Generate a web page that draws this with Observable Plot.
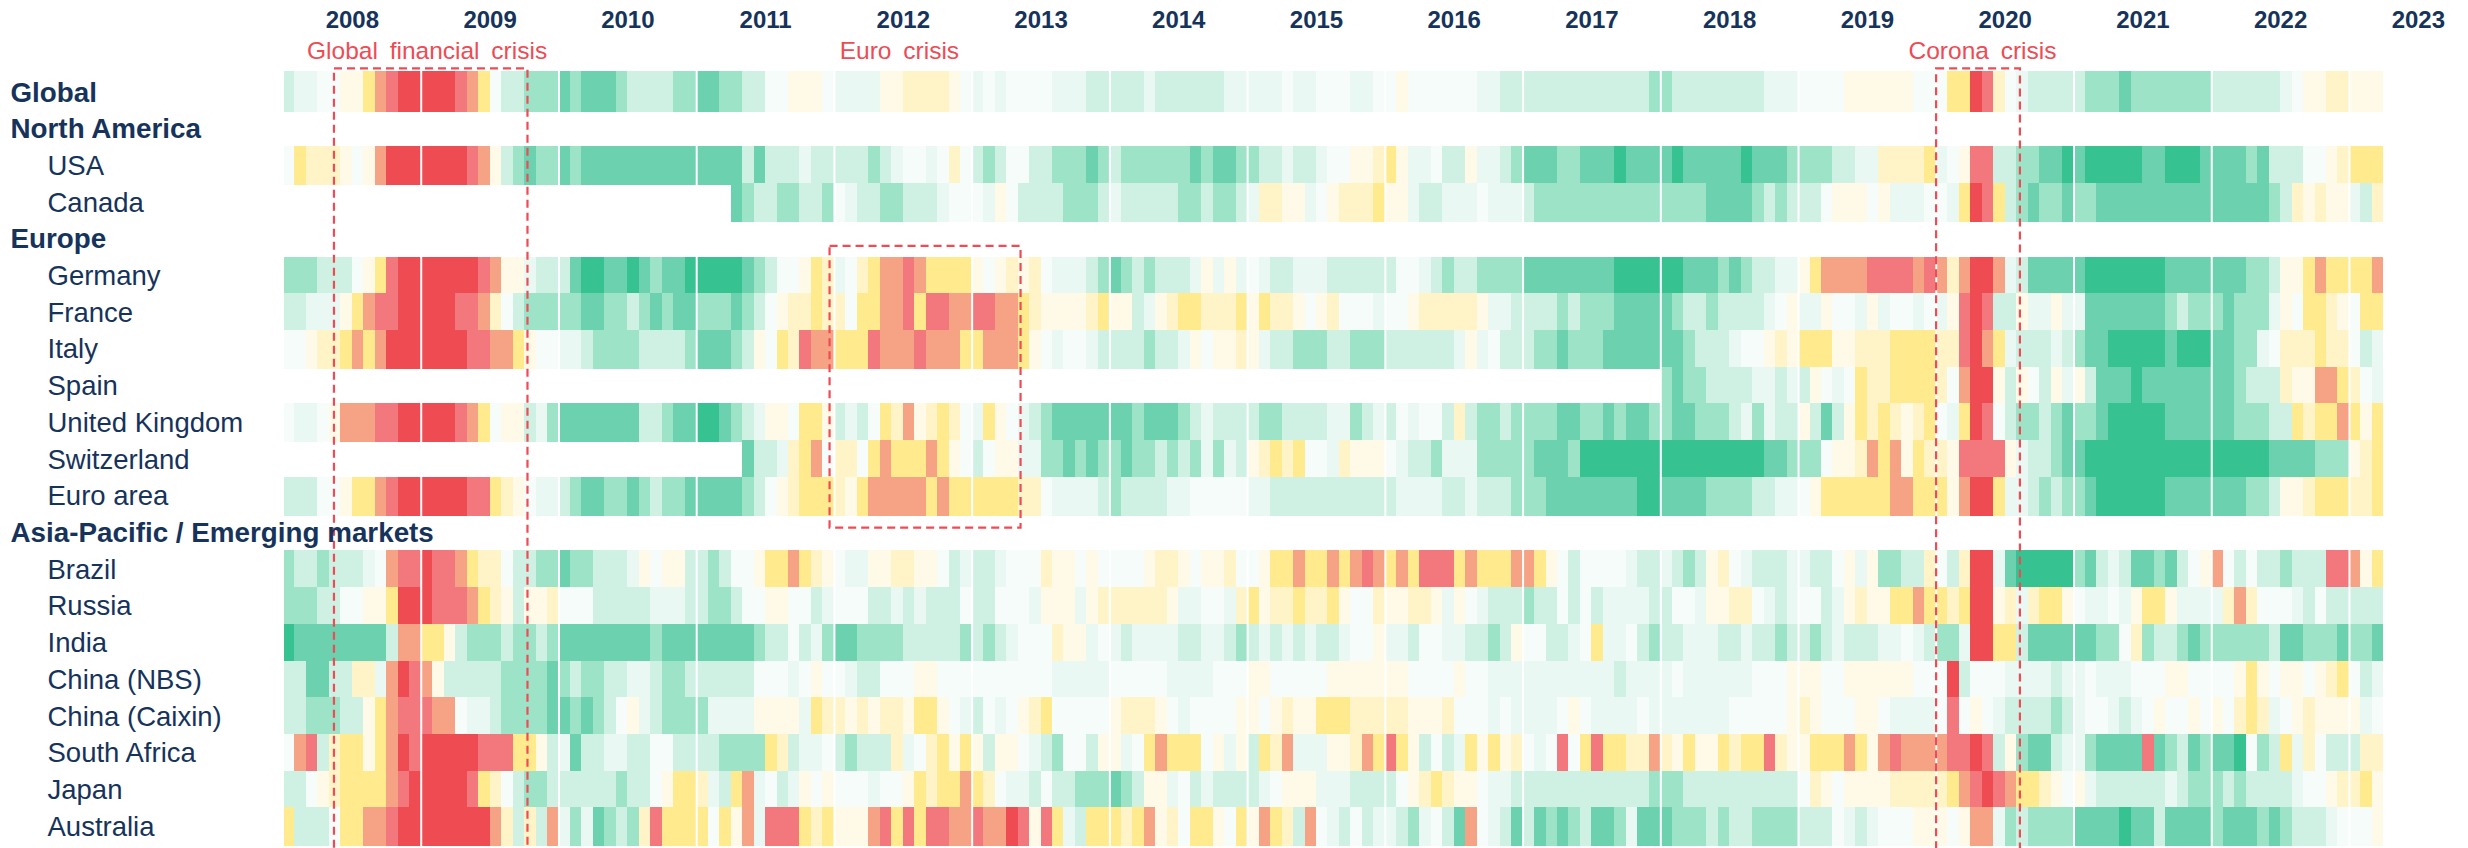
<!DOCTYPE html>
<html>
<head>
<meta charset="utf-8">
<script src="https://cdn.jsdelivr.net/npm/d3@7"></script>
<script src="https://cdn.jsdelivr.net/npm/@observablehq/plot@0.6"></script>
<style>
  html, body { margin: 0; padding: 0; background: #fff; }
  svg { display: block; }
  .crisis-label text { word-spacing: 5px; }
</style>
</head>
<body>
<script>
// Signal levels, from strongest expansion (a) to strongest contraction (l); "." = no data
const levelCodes  = ["a","b","c","d","e","f","g","h","i","j","k","l"];
const levelColors = ["#37C292","#6BD1AE","#9DE3C8","#CEF1E4","#E9F8F3","#F6FCFA","#FFFAE8","#FFF4C8","#FFEA8E","#F5A285","#F3787E","#EE4B52"];

const years = [2008,2009,2010,2011,2012,2013,2014,2015,2016,2017,2018,2019,2020,2021,2022,2023];

// one string per year, one letter per month
const global_ = ["deeffggijkll","lllkjifddccc","bcbbbcddddcc","bbccddffgggf","eeeegghhhhgf","efeffffeeedd","dddeddddddee","eeefeefffeef","fgffffffeedd","dddddddddddc","cddddddddeee","ffffggggggff","fiilkhfedddd","dcccbccccccc","ddddddefgghh","ggg"];
const usa = ["fihhhgfgjlll","llllkjgdcbcc","bcbbbbbbbbbb","bbbbdbdddedd","dddcdeffefhf","dcdffddcccbc","dccccccbcbbc","cddeddeffggh","igeefddgeedc","bbbccbbbabbb","babbbbbabbbc","cccddeehhhhi","efgkkddccbba","baaaaabbaaab","bbbcbdddffgh","iii"];
const canada = ["............","............","............","...bcddccddc","feddccdddeff","fegfddddcccd","edddddccdccd","ehhggefghhhi","ggeddeeefeee","dccccccccccc","ccccbbbbcdcd","ddfgggfgeeef","feilkidcbccb","ccbbbbbbbbbb","bbbbbcdhghgg","edh"];
const germany = ["cccdddfgikll","lllllkjggedd","dbaabbabcbba","aaaabcdffgih","efhijjkjiiii","gfghghfeeedc","bcdcdddegege","feddeeeddddd","dffedcddcccc","bbbbbbbbaaaa","aabbbcbcddee","gijjjjkkkkjk","jhjlljedbbbb","baaaaaaabbbb","bbbccdggijii","iij"];
const france = ["ddeeegijkkll","lllkkjhfdccc","ccbbccdcbcbb","cccbcdfghhih","hfiijjkikkjj","kkjjihgggghi","ggdeghiihhhi","gihhgfghfffe","ffghhhhhgeed","dddcdcccbbbb","bcddcddddefg","eegffegeffef","egklkddgeege","ebbbbbbbcdcc","cbcccegfiihg","fii"];
const italy = ["ffghhijijlll","llllkkjjigff","eedccccddddc","bbbcdgfihkjj","iiikjjjkjjji","ijjjigfeffed","dddcddegfggh","geddcccddccc","ddddddegefdd","dccbcccbbbbb","bbcdddeffghg","iiigghhhiiii","hhkljieddded","cbbaaaaabaaa","bbccefhhhihh","fde"];
const spain = ["............","............","............","............","............","............","............","............","............","............","cbccddddeede","dgfefihhiiii","hfjllgdgfdge","gdbbbabbbbbb","bbcdddhggjji","hfe"];
const uk = ["feefgjjjkkll","lllkjifggdec","bbbbbbbddcbb","aabcdeggfiig","dedfihjghihf","eigfedcbbbbb","bbcbbbcdeddd","dccddddeecde","dfeffdhdccdc","cccbbccbcbbc","cbbcccdecedd","gdbdgihihghi","feilkfdccdcb","ccbaaaaabbbb","bbcccddihiij","igi"];
const switzerland = ["............","............","............","....bddehijf","hhfijiiijigf","dfggeeccbcbc","cbccdcdceced","ghihiffehggg","feddceeecccc","cbbbcaaaaaaa","aaaaaaaaabbc","ccfgghjijgih","hgkkkkgeddcb","baaaaaaaaaaa","aaaaabbbbccc","ghi"];
const euroArea = ["dddffgiijkll","llllkkihgfee","dcbbccbcdccb","bbbbcdfghiii","hgijjjjjijii","iiiihhfeeeed","cddddeefffff","eedddddddddd","deeeeddedddc","ccbbbbbbbbaa","bbbbccccddee","fgiiiiiijjii","igjllieedcdc","cbaaaaaabbbb","bbbccdgghiii","hhi"];
const brazil = ["cddcdddefjkk","lkkjihhfddcc","bccdddegfggd","dcdffgiijihg","feegghhggfde","ddefffhggfgf","fffghhgfgghf","fgiijiijijkj","ijikkkijiiij","jigfdffffedd","edcdghfeddde","eddfgegccddh","fdhllebaaaaa","cbdedbbcbdfg","jfdfddcdddkk","jgi"];
const russia = ["cccddffggill","lkkkjihgdggh","fffdddddeeed","dccdffggffde","fffddededddf","ddfffegggegh","hhhhhgeeffeh","ighhihhigffh","gghhgegfeddd","cddfdfdeeeed","dffegghhfede","ffdeghggiiji","ihillghehiig","feefegiigeee","ehjhfffedfdd","ddd"];
const india = ["abbbbbbbbdjj","iigdcccdccdc","bbbbbbbbcbbb","bbbbbcddfdec","bbccccdddddc","dcdefffhggef","edeeeeddeedc","dedededdeffg","eedffeeddcdg","ffddefieefdc","ddeeeddeddcd","dcdedddeefed","ccelliidbbbb","bbccfhcddcbc","cccccdbbcccb","ccb"];
const chinaNBS = ["ddbbddhhejlk","jgdddddccccb","cdccddeedccd","dddddfffefgf","feddfffggfff","fffffffeeeee","fffffeeeefff","ggfffffggggg","ggffffgffeee","eeeeeeeedeee","efeeeeeefffg","ggffggggggff","fldfffeeeede","efeeefffggff","ffgigfggfghi","fde"];
const chinaCaixin = ["ddcccddgijkk","kjjfeedccccb","bcbcdfgedccc","ceeeeggggeih","hghghhgiigfe","dfefghifffff","ghhhgfeffffg","gfghggiiihhh","hhggghfffefe","eeefgfeeeefe","eeeeeefffffg","hgfffggfeeee","fkfgfeddddcd","effedefgffgf","gfhihefghggg","gef"];
const southAfrica = ["fjkdhiigijlk","lllllkkkiigd","ebddeeddffdd","ddccccihdeef","dcdddhefhigi","gdggfedcffdg","gefijiiifgeg","dihjeeegghji","kigdfdeigigh","fefkfikiihhj","hgiggihiikhg","giiijigjkjjj","jkklkdgcbbde","ecbbbbkbcdbc","bbafcdiehfdd","dhh"];
const japan = ["ddfghiiiijkl","llllkihfdccd","dddddcddfgii","hedijefdegfg","fffeffgihiij","ihfeedfddccc","bcdggefdeddd","defgggeeeddd","dfghihggfeed","dddddddddddc","ccdddddddddd","fhgfgggghhhh","hijklkjiihgf","geddddddedcc","cdcddddeffgh","hig"];
const australia = ["idddfiijjkll","lllllljhdhdj","ecebcdchkiii","ifigjekkkihi","gggjkikikkjj","kjjlkgkiedii","ihijghfiigfi","gjihdjfedfde","edcefdbjfedb","dbcbcdbbcebb","bcccdcddcccc","dddfedefffgg","gfgjjecdcccc","bbbbabbdbbbb","cbbbcbcdddef","ffg"];

const rows = [
  {name:"Global", head:true, values:global_},
  {name:"North America", head:true},
  {name:"USA", values:usa},
  {name:"Canada", values:canada},
  {name:"Europe", head:true},
  {name:"Germany", values:germany},
  {name:"France", values:france},
  {name:"Italy", values:italy},
  {name:"Spain", values:spain},
  {name:"United Kingdom", values:uk},
  {name:"Switzerland", values:switzerland},
  {name:"Euro area", values:euroArea},
  {name:"Asia-Pacific / Emerging markets", head:true},
  {name:"Brazil", values:brazil},
  {name:"Russia", values:russia},
  {name:"India", values:india},
  {name:"China (NBS)", values:chinaNBS},
  {name:"China (Caixin)", values:chinaCaixin},
  {name:"South Africa", values:southAfrica},
  {name:"Japan", values:japan},
  {name:"Australia", values:australia}
];

const crises = [
  {name:"Global financial crisis", c1:4.44,   c2:21.30,  r1:-0.128, r2:21.5,  labelCol:12.51},
  {name:"Euro crisis",             c1:47.62,  c2:64.26,  r1:4.71,   r2:12.38, labelCol:53.66},
  {name:"Corona crisis",           c1:144.03, c2:151.33, r1:-0.128, r2:21.5,  labelCol:148.03}
];

const monthsPerYear = 12;
const columnCount = 183;

const cells = [];
rows.forEach((row, r) => {
  if (!row.values) return;
  const flat = row.values.join("");
  if (flat.length !== columnCount) throw new Error(row.name + " has " + flat.length);
  [...flat].forEach((level, c) => {
    if (level !== ".") cells.push({c, r, level});
  });
});

const yearEdges = years.slice(1).map((y, i) => (i + 1) * monthsPerYear);
const yearLabels = years.map((year, i) => ({year, c: i * monthsPerYear + monthsPerYear / 2}));
const rowLabels = rows.map((row, r) => ({...row, r: r + 0.52}));

const navy = "#16335B", red = "#EE4B55";

const chart = Plot.plot({
  width: 2468, height: 848,
  marginTop: 0, marginRight: 0, marginBottom: 0, marginLeft: 0,
  style: {fontFamily: "'Liberation Sans', Arial, sans-serif", background: "#fff"},
  x: {type: "linear", axis: null, domain: [0, columnCount], range: [283, 2383.4]},
  y: {type: "linear", axis: null, domain: [0, 21], range: [73, 844.1]},
  color: {type: "ordinal", domain: levelCodes, range: levelColors},
  marks: [
    Plot.rect(cells, {
      x1: d => Math.max(d.c, 0.09), x2: d => d.c + 1,
      y1: d => d.r === 0 ? -0.05 : d.r, y2: d => d.r + 1.06,
      fill: "level", shapeRendering: "crispEdges"
    }),
    Plot.ruleX(yearEdges, {y1: -0.3, y2: 21.3, stroke: "#fff", strokeWidth: 2}),
    Plot.rect(crises, {
      x1: "c1", x2: "c2", y1: "r1", y2: "r2",
      fill: "none", stroke: red, strokeWidth: 2.2, strokeDasharray: "8,5"
    }),
    Plot.text(yearLabels, {
      x: "c", y: -1.435, text: d => String(d.year),
      fontSize: 24, fontWeight: "bold", fill: navy, textAnchor: "middle", lineAnchor: "middle"
    }),
    Plot.text(crises, {
      x: "labelCol", y: -0.607, text: "name",
      fontSize: 24.5, fill: red, textAnchor: "middle", lineAnchor: "middle", className: "crisis-label"
    }),
    Plot.text(rowLabels.filter(d => d.head), {
      frameAnchor: "left", dx: 10, y: "r", text: "name",
      fontSize: 27.8, fontWeight: "bold", fill: navy, textAnchor: "start", lineAnchor: "middle"
    }),
    Plot.text(rowLabels.filter(d => !d.head), {
      frameAnchor: "left", dx: 47, y: "r", text: "name",
      fontSize: 27.5, fill: navy, textAnchor: "start", lineAnchor: "middle"
    })
  ]
});
document.body.append(chart);
</script>
</body>
</html>
